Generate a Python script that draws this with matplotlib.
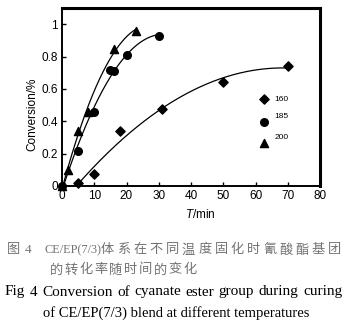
import numpy as np
import matplotlib
matplotlib.use("Agg")
import matplotlib.pyplot as plt

plt.rcParams["mathtext.fontset"] = "custom"
plt.rcParams["mathtext.it"] = "Liberation Sans:italic"
plt.rcParams["mathtext.rm"] = "Liberation Sans"

# conversion of cyanate ester group vs time, three curing temperatures
t160 = [5, 10, 18, 31, 50, 70]
c160 = [0.016, 0.074, 0.34, 0.473, 0.644, 0.74]
t185 = [0, 5, 10, 15, 16, 20, 30]
c185 = [0.0, 0.218, 0.46, 0.716, 0.71, 0.81, 0.928]
t200 = [0, 2, 5, 8, 16, 23]
c200 = [0.0, 0.1, 0.34, 0.455, 0.848, 0.96]
temps = ["160", "185", "200"]

xticks = [0, 10, 20, 30, 40, 50, 60, 70, 80]
yticks = [0, 0.2, 0.4, 0.6, 0.8, 1.0]
ylabels = ["0", "0.2", "0.4", "0.6", "0.8", "1"]

W, H = 348, 326
fig = plt.figure(figsize=(W/100, H/100), dpi=100)
ax = fig.add_axes([62/W, 1-186/H, 258/W, 178/H])

def fitline(t, c, x0, x1):
    p = np.polyfit(t, c, 2)
    xx = np.linspace(x0, x1, 200)
    yy = np.polyval(p, xx)
    keep = yy >= 0
    return xx[keep], yy[keep]

for t, c, m, s, lo, hi in [(t160, c160, "D", 22, 0, 70),
                            (t185, c185, "o", 30, 0, 30),
                            (t200, c200, "^", 34, 0, 23)]:
    xx, yy = fitline(t, c, lo, hi)
    ax.plot(xx, yy, color="black", lw=0.9)
    ax.scatter(t, c, marker=m, s=s, color="black", zorder=3, clip_on=False)

# marker key drawn inside the plot area
kx = 62.5
for ky, m, s, lab, ly in [(0.537, "D", 22, temps[0], 0.537),
                          (0.397, "o", 30, temps[1], 0.43),
                          (0.263, "^", 34, temps[2], 0.30)]:
    ax.scatter([kx], [ky], marker=m, s=s, color="black", zorder=3)
    ax.text(kx + 3.3, ly, lab, fontsize=6, family="Liberation Sans",
            va="center", ha="left")

ax.set_xlim(0, 80)
ax.set_ylim(0, 1.1)
ax.set_xticks(xticks)
ax.set_xticklabels([str(v) for v in xticks])
ax.set_yticks(yticks)
ax.set_yticklabels(ylabels)
ax.tick_params(direction="in", length=3, width=1, labelsize=8.5, pad=3)
for lab in ax.get_xticklabels() + ax.get_yticklabels():
    lab.set_family("Liberation Sans")
for side in ["left", "bottom"]:
    ax.spines[side].set_linewidth(1.4)
for side in ["top", "right"]:
    ax.spines[side].set_linewidth(2.2)

fig.text(32/W, 1-114/H, "Conversion/%", rotation=90, fontsize=8.5,
         family="Liberation Sans", ha="center", va="center")
fig.text(200/W, 1-215/H, r"$\mathit{T}$/min", fontsize=8.5,
         family="Liberation Sans", ha="center", va="center")

# Chinese caption, characters laid out one by one for the wide spacing
grey = "#737373"
cjk = ["Noto Sans CJK SC", "DejaVu Sans"]
fig.text(7/W, 1-250/H, "图", fontsize=9.5, family=cjk, color=grey, va="center")
fig.text(25/W, 1-250/H, "4", fontsize=9.5, family="Liberation Serif",
         color=grey, va="center")
fig.text(44/W, 1-250/H, "CE/EP(7/3)", fontsize=8.8, family="Liberation Serif",
         color=grey, va="center")
line1 = "体系在不同温度固化时氰酸酯基团"
for i, ch in enumerate(line1):
    fig.text((101 + i*16.2)/W, 1-250/H, ch, fontsize=9.5, family=cjk,
             color=grey, va="center")
line2 = "的转化率随时间的变化"
for i, ch in enumerate(line2):
    fig.text((50 + i*14.8)/W, 1-270/H, ch, fontsize=9.5, family=cjk,
             color=grey, va="center")

# English caption; first line spread across the full width
renderer = fig.canvas.get_renderer()
words = "Fig 4 Conversion of cyanate ester group during curing".split()
x0, x1 = 5, 342
parts = []
for w in words:
    tt = fig.text(0, 0, w, fontsize=11, family="Liberation Serif")
    parts.append((tt, tt.get_window_extent(renderer).width))
gap = (x1 - x0 - sum(p[1] for p in parts)) / (len(parts) - 1)
x = x0
for tt, wd in parts:
    tt.set_position((x/W, 1-292/H))
    tt.set_va("center")
    x += wd + gap
fig.text(176/W, 1-313/H, "of CE/EP(7/3) blend at different temperatures",
         fontsize=10.5, family="Liberation Serif", ha="center", va="center")

fig.savefig("out.png", dpi=100)
